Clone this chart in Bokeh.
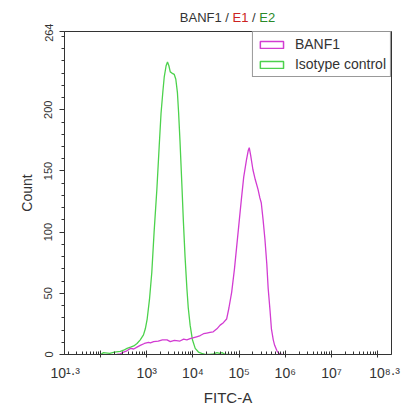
from bokeh.plotting import figure
from bokeh.layouts import column
from bokeh.models import (ColumnDataSource, FixedTicker, Legend, LegendItem,
                          Range1d, LogAxis, Div, CustomJSTickFormatter)
from bokeh.embed import file_html
from bokeh.resources import INLINE

# ---- data (x as log10 of FITC-A, y as Count) ----
banf1_log = [2.35, 2.43, 2.50, 2.57, 2.65, 2.72, 2.79, 2.86, 2.95, 3.04, 3.08,
             3.15, 3.25, 3.34, 3.44, 3.51, 3.60, 3.72, 3.80, 3.87, 3.94, 4.00,
             4.08, 4.16, 4.23, 4.30, 4.37, 4.44, 4.52, 4.59, 4.66, 4.73, 4.78,
             4.84, 4.90, 4.95, 5.00, 5.05, 5.10, 5.16, 5.20, 5.22, 5.25, 5.30,
             5.35, 5.41, 5.45, 5.48, 5.52, 5.56, 5.60, 5.63, 5.67, 5.70, 5.74,
             5.77, 5.82, 5.86, 5.94]
banf1_count = [0, 0.5, 2, 3, 5, 4.5, 6, 7.5, 9, 10, 9.5,
               10.5, 11, 12, 12, 10.5, 11.5, 11, 12.5, 12, 13, 13.5,
               14.5, 15.5, 17, 17.5, 18, 18.5, 21, 24, 26, 29, 38,
               51, 70, 89, 108, 127, 145, 159, 167, 169, 163, 151,
               143, 135, 128, 124, 110, 94, 74, 54, 36, 21, 12,
               7.5, 3, 1, 0]
iso_log = [2.00, 2.065, 2.20, 2.30, 2.43, 2.50, 2.575, 2.65, 2.72, 2.79, 2.86,
           2.93, 2.97, 3.01, 3.06, 3.11, 3.16, 3.22, 3.27, 3.31, 3.35, 3.38,
           3.42, 3.45, 3.48, 3.51, 3.545, 3.595, 3.63, 3.665, 3.69, 3.72, 3.76,
           3.795, 3.83, 3.87, 3.90, 3.94, 3.99, 4.05, 4.12, 4.19, 4.28, 4.37,
           4.45, 4.52, 4.58, 4.63, 4.70, 4.80]
iso_count = [0, 1.5, 1, 2, 2.5, 3.5, 5, 6, 7, 9, 12,
             16, 21, 29, 45, 67, 100, 135, 170, 197, 215, 227,
             236, 239, 236, 231, 230, 229, 225, 214, 198, 175, 140,
             108, 80, 54, 38, 24, 12, 5, 2, 1, 0, 0,
             0.5, 1.5, 1, 1.5, 0, 0]

series_names = ["BANF1", "Isotype control"]
x_major_exponents = [2, 3, 4, 5, 6, 7, 8]
x_tick_labels = ["10\u00b9\u00b7\u00b3", "10\u00b3", "10\u2074", "10\u2075",
                 "10\u2076", "10\u2077", "10\u2078\u00b7\u00b3"]
y_major_ticks = [0, 50, 100, 150, 200, 264]
title_parts = ["BANF1 / ", "E1", " / ", "E2"]

# ---- layout / style (not data) ----
x_label_log_pos = [1.235, 3, 4, 5, 6, 7, 8.15]
MAGENTA = "#d23cd2"
GREEN = "#4cd24c"
TXT = "#333333"
FONT = "Liberation Sans"
TITLE_H = 23

p = figure(width=401, height=408 - TITLE_H, x_axis_type="log",
           x_range=Range1d(10 ** 1.22, 10 ** 8.3), y_range=Range1d(0, 264),
           output_backend="svg", toolbar_location=None,
           min_border_left=64, min_border_right=10,
           min_border_top=31 - TITLE_H, min_border_bottom=51)
p.xgrid.visible = False
p.ygrid.visible = False
p.outline_line_color = TXT
p.outline_line_width = 1

src_b = ColumnDataSource(dict(x=[10 ** v for v in banf1_log], y=banf1_count))
src_i = ColumnDataSource(dict(x=[10 ** v for v in iso_log], y=iso_count))
p.line("x", "y", source=src_i, line_color=GREEN, line_width=1.3)
p.line("x", "y", source=src_b, line_color=MAGENTA, line_width=1.3)

# legend proxies: open rectangles, kept outside the visible range
proxy = ColumnDataSource(dict(left=[1e12], right=[2e12], top=[1000], bottom=[999]))
r1 = p.quad(source=proxy, left="left", right="right", top="top",
            bottom="bottom", fill_alpha=0, line_color=MAGENTA, line_width=1.5)
r2 = p.quad(source=proxy, left="left", right="right", top="top",
            bottom="bottom", fill_alpha=0, line_color=GREEN, line_width=1.5)
legend = Legend(items=[LegendItem(label=series_names[0], renderers=[r1]),
                       LegendItem(label=series_names[1], renderers=[r2])],
                location="top_right", margin=0, padding=4, spacing=4,
                glyph_width=29, glyph_height=9, label_standoff=9,
                label_height=15, border_line_color=TXT, border_line_width=1,
                label_text_font=FONT, label_text_font_size="14px",
                label_text_color=TXT)
p.add_layout(legend)

# x axis: tick marks only
xa = p.xaxis[0]
xa.ticker = FixedTicker(ticks=[10.0 ** e for e in x_major_exponents],
                        minor_ticks=[m * 10.0 ** d for d in range(1, 9)
                                     for m in range(2, 10)])
xa.formatter = CustomJSTickFormatter(code="return ''")
xa.axis_line_color = TXT
xa.major_tick_line_color = TXT
xa.minor_tick_line_color = TXT
xa.major_tick_in = 4
xa.major_tick_out = 3
xa.minor_tick_in = 3
xa.minor_tick_out = 0
xa.major_label_standoff = 0
xa.major_label_text_font_size = "1px"

# second x axis below: tick labels and axis title
label_ticks = [10.0 ** v for v in x_label_log_pos]
xl = LogAxis(ticker=FixedTicker(ticks=label_ticks, minor_ticks=[]),
             major_label_overrides=dict(zip(label_ticks, x_tick_labels)),
             axis_line_color=None, major_tick_line_color=None,
             minor_tick_line_color=None, major_tick_in=0, major_tick_out=0,
             minor_tick_in=0, minor_tick_out=0, major_label_standoff=7,
             major_label_text_font=FONT, major_label_text_font_size="14px",
             major_label_text_color=TXT, axis_label="FITC-A",
             axis_label_text_font=FONT, axis_label_text_font_size="15px",
             axis_label_text_font_style="normal", axis_label_text_color=TXT,
             axis_label_standoff=5)
p.add_layout(xl, "below")

# y axis
ya = p.yaxis[0]
ya.ticker = FixedTicker(ticks=y_major_ticks, minor_ticks=list(range(0, 265, 10)))
ya.axis_line_color = TXT
ya.major_tick_line_color = TXT
ya.minor_tick_line_color = TXT
ya.major_tick_in = 0
ya.major_tick_out = 5
ya.minor_tick_in = 0
ya.minor_tick_out = 3
ya.major_label_orientation = "vertical"
ya.major_label_standoff = 7
ya.major_label_text_font = FONT
ya.major_label_text_font_size = "11px"
ya.major_label_text_color = TXT
ya.axis_label = "Count"
ya.axis_label_text_font = FONT
ya.axis_label_text_font_size = "14px"
ya.axis_label_text_font_style = "normal"
ya.axis_label_text_color = TXT
ya.axis_label_standoff = 7

# multi-coloured title above the frame
title_colors = [TXT, "#cc2222", TXT, "#2a8a2a"]
spans = "".join('<span style="color:%s;white-space:pre">%s</span>' % (c, t)
                for t, c in zip(title_parts, title_colors))
title = Div(text='<div style="width:327px;text-align:center;padding-top:11px;'
                 'font-family:\'Liberation Sans\';font-size:13px;'
                 'line-height:13px;white-space:nowrap">%s</div>' % spans,
            width=327, height=TITLE_H, margin=(0, 0, 0, 64))

layout = column(title, p, spacing=0)
open("out.html", "w").write(file_html(layout, INLINE))
